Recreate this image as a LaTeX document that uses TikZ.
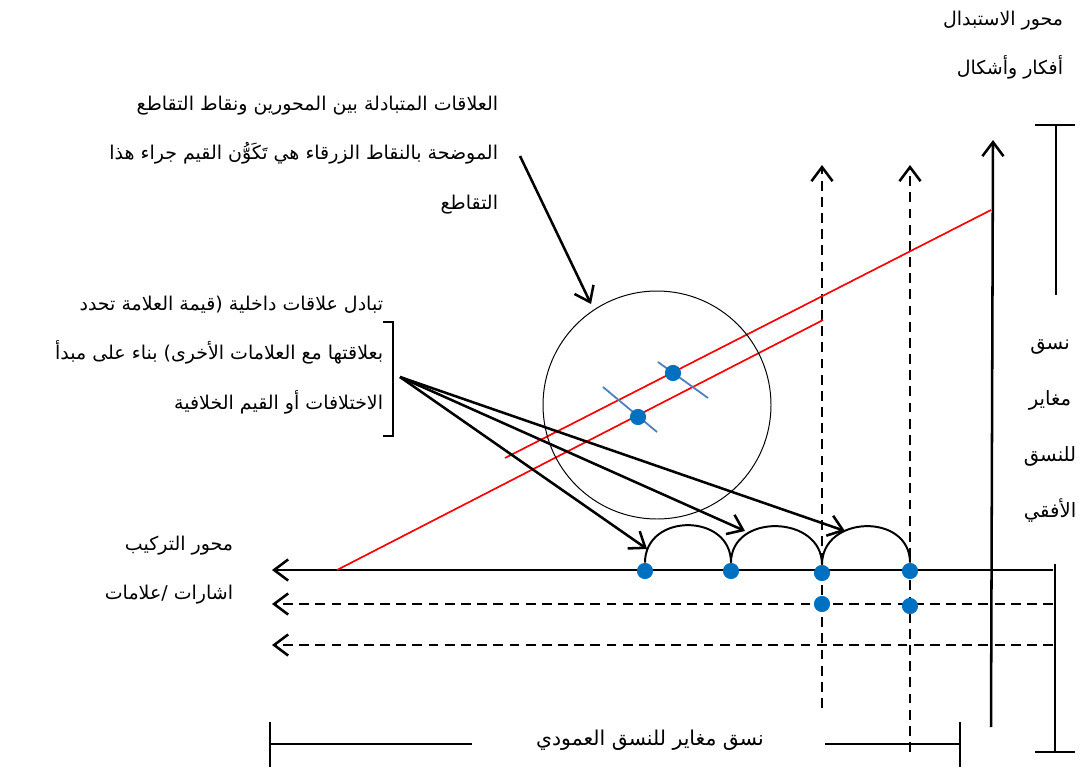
\documentclass[tikz,border=0pt]{standalone}
\usepackage{fontspec}
\newfontfamily\arabicfont[Script=Arabic]{DejaVu Sans}
\TeXXeTstate=1
\usetikzlibrary{arrows.meta}
\definecolor{dotblue}{RGB}{0,112,192}
\definecolor{tickblue}{RGB}{79,129,189}
\newcommand{\rtl}[1]{\beginR #1\endR}

\begin{document}
\begin{tikzpicture}[x=0.025cm, y=-0.025cm,
    mainline/.style={line width=1.8pt},
    dashline/.style={line width=1.8pt, dash pattern=on 7pt off 4.5pt},
    barbarrow/.style={-{Straight Barb[length=10pt,width=15pt]}},
    bluedot/.style={circle, fill=dotblue, inner sep=0pt, minimum size=11.5pt},
    arlabel/.style={font=\arabicfont\fontsize{13.5}{35}\selectfont, align=right},
    redline/.style={red, line width=1.2pt}]

            \useasboundingbox (0,0) rectangle (1084,769);

            % 文字
            \node[arlabel, anchor=east] (paradigm) at (1068,45) {\rtl{محور الاستبدال}\\\rtl{أفكار وأشكال}};
            \node[arlabel, anchor=east] (topnote) at (503,155) {\rtl{العلاقات المتبادلة بين المحورين ونقاط التقاطع}\\\rtl{الموضحة بالنقاط الزرقاء هي تَكَوُّن القيم جراء هذا}\\\rtl{التقاطع}};
            \node[arlabel, anchor=east] (leftnote) at (388,355) {\rtl{تبادل علاقات داخلية (قيمة العلامة تحدد}\\\rtl{بعلاقتها مع العلامات الأخرى) بناء على مبدأ}\\\rtl{الاختلافات أو القيم الخلافية}};
            \node[arlabel, anchor=east] (syntagm) at (238,570) {\rtl{محور التركيب}\\\rtl{اشارات /علامات}};
            \node[arlabel, align=center, font=\arabicfont\fontsize{14}{40}\selectfont] (rightnote) at (1050,431) {\rtl{نسق}\\\rtl{مغاير}\\\rtl{للنسق}\\\rtl{الأفقي}};
            \node[arlabel, font=\arabicfont\fontsize{14.5}{35}\selectfont] (bottomnote) at (650,740) {\rtl{نسق مغاير للنسق العمودي}};

            % 右侧括号
            \draw[line width=1.3pt] (1035,125) -- (1075,125) (1056,125) -- (1056,295);
            \draw[line width=1.3pt] (1055,564) -- (1055,752) (1035,752) -- (1075,752);

            % 底部括号
            \draw[mainline] (270,722) -- (270,767) (270,744) -- (472,744);
            \draw[mainline] (825,744) -- (960,744) (960,722) -- (960,767);

            % 水平轴
            \coordinate (hend1) at (1053,570);
            \coordinate (hend2) at (1053,604);
            \coordinate (hend3) at (1053,645);
            \coordinate (htip1) at (272,570);
            \coordinate (htip2) at (272,604);
            \coordinate (htip3) at (272,645);
            \draw[mainline, barbarrow] (hend1) -- (htip1);
            \draw[dashline, barbarrow] (hend2) -- (htip2);
            \draw[dashline, barbarrow] (hend3) -- (htip3);

            % 垂直轴
            \coordinate (vbase) at (991,727);
            \coordinate (vtip) at (993,140);
            \draw[mainline, barbarrow] (vbase) -- (vtip);
            \draw[dashline, barbarrow] (822,708) -- (822,165);
            \draw[dashline, barbarrow] (910,752) -- (910,165);

            % 红线
            \draw[redline] (337,570) -- (823,320);
            \draw[redline] (505,458) -- (991,210);

            % 圆圈
            \draw[line width=0.7pt] (657,405) circle (114);
            \draw[tickblue, line width=1.3pt] (658,362) -- (708,398);
            \draw[tickblue, line width=1.3pt] (603,387) -- (657,432);
            \node[bluedot] (cross1) at (673,373) {};
            \node[bluedot] (cross2) at (638,417) {};

            % 蓝点
            \node[bluedot] (s1) at (645,571) {};
            \node[bluedot] (s2) at (731,571) {};
            \node[bluedot] (s3) at (822,573) {};
            \node[bluedot] (s4) at (910,571) {};
            \node[bluedot] (s5) at (822,604) {};
            \node[bluedot] (s6) at (910,606) {};

            % 弧线
            \draw[line width=1.4pt] (s1.north) .. controls +(0,-50) and +(0,-50) .. (s2.north);
            \draw[line width=1.4pt] (s2.north) .. controls +(0,-50) and +(0,-50) .. (s3.north);
            \draw[line width=1.4pt] (s3.north) .. controls +(0,-50) and +(0,-50) .. (s4.north);

            % 括号与箭头
            \draw[line width=1.3pt] (383,322) -- (393,322) -- (393,436) -- (383,436);
            \coordinate (brace) at (400,377);
            \coordinate (arc1) at (647,549);
            \coordinate (arc2) at (745,531);
            \coordinate (arc3) at (845,531);
            \draw[mainline, barbarrow] (brace) -- (arc1);
            \draw[mainline, barbarrow] (brace) -- (arc2);
            \draw[mainline, barbarrow] (brace) -- (arc3);

            \coordinate (notetail) at (520,156);
            \coordinate (circtop) at (591,304);
            \draw[mainline, barbarrow] (notetail) -- (circtop);

\end{tikzpicture}
\end{document}
